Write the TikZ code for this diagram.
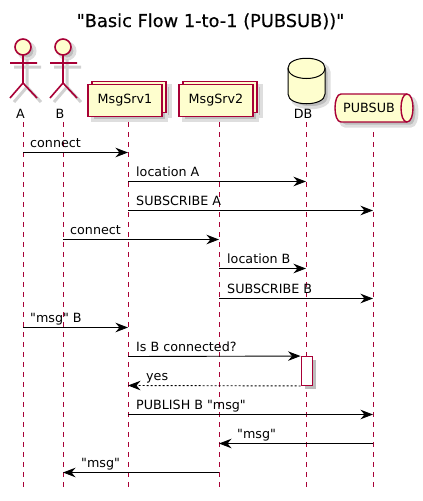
\documentclass[tikz,border=0pt]{standalone}
\usepackage{fontspec}
\setmainfont{DejaVu Sans}
\newfontfamily\labelfont{DejaVu Sans}[Ligatures=ResetAll]
\newfontfamily\titlefont{DejaVu Sans}[Ligatures=ResetAll,FakeBold=0.45]
\usetikzlibrary{arrows.meta}
\definecolor{umlline}{HTML}{A80036}
\definecolor{umlfill}{HTML}{FEFECE}
\begin{document}
\begin{tikzpicture}[x=1pt,y=-1pt,font=\labelfont\fontsize{12.7}{15}\selectfont]
            \tikzstyle{every node}=[inner sep=0pt]
            \tikzstyle{shade}=[draw=black!13,fill=black!26,line width=3pt]
            \tikzstyle{limbshade}=[draw=black!18,line width=3pt]
            \tikzstyle{limb}=[draw=umlline,line width=1.6pt]
            \tikzstyle{box}=[rectangle,draw=umlline,fill=umlfill,line width=1.4pt,minimum width=74pt,minimum height=31.5pt]
            \tikzstyle{boxshade}=[rectangle,draw=black!13,fill=black!26,line width=3pt,minimum width=74pt,minimum height=31.5pt]
            \tikzstyle{lifeline}=[draw=umlline,line width=0.8pt,dash pattern=on 5pt off 5pt]
            \tikzstyle{msg}=[draw=black,line width=0.9pt,-{Stealth[length=12.5pt,width=9.5pt,inset=4pt]}]
            \tikzstyle{reply}=[msg,dash pattern=on 2pt off 2pt]
            \tikzstyle{label}=[anchor=base west]
            \useasboundingbox (0,0) rectangle (423,501);
            \draw (210.5,27) node [anchor=base,font=\titlefont\fontsize{17.8}{20}\selectfont] (title) {"Basic Flow 1-to-1 (PUBSUB))"};
            % lifelines
            \coordinate (lA) at (23,122);
            \coordinate (lB) at (63,122);
            \coordinate (lS1) at (128,122);
            \coordinate (lS2) at (219,122);
            \coordinate (lDB) at (306,122);
            \coordinate (lPS) at (373,122);
            \coordinate (eA) at (23,487);
            \coordinate (eB) at (63,487);
            \coordinate (eS1) at (128,487);
            \coordinate (eS2) at (219,487);
            \coordinate (eDB) at (306,487);
            \coordinate (ePS) at (373,487);
            \draw[lifeline] (lA) -- (eA);
            \draw[lifeline] (lB) -- (eB);
            \draw[lifeline] (lS1) -- (eS1);
            \draw[lifeline] (lS2) -- (eS2);
            \draw[lifeline] (lDB) -- (eDB);
            \draw[lifeline] (lPS) -- (ePS);
            % actor A
            \begin{scope}[shift={(4,4)}]
                \draw[shade] (23,47) circle (8);
                \draw[limbshade] (23,55) -- (23,83) (10,63) -- (37,63) (10,98) -- (23,83) -- (37,98);
            \end{scope}
            \draw[limb] (23,55) -- (23,83) (10,63) -- (37,63) (10,98) -- (23,83) -- (37,98);
            \draw[limb,fill=umlfill] (23,47) circle (8);
            \draw (20.5,113.5) node (A) {A};
            % actor B
            \begin{scope}[shift={(4,4)}]
                \draw[shade] (63,47) circle (8);
                \draw[limbshade] (63,55) -- (63,83) (50,63) -- (77,63) (50,98) -- (63,83) -- (77,98);
            \end{scope}
            \draw[limb] (63,55) -- (63,83) (50,63) -- (77,63) (50,98) -- (63,83) -- (77,98);
            \draw[limb,fill=umlfill] (63,47) circle (8);
            \draw (60,113.5) node (B) {B};
            % collections
            \draw (133,101) node [boxshade] (sS1b) {};
            \draw (129,104.5) node [boxshade] (sS1) {};
            \draw (129,97) node [box] (S1b) {};
            \draw (125,100.5) node [box] (S1) {MsgSrv1};
            \draw (224,101) node [boxshade] (sS2b) {};
            \draw (220,104.5) node [boxshade] (sS2) {};
            \draw (220,97) node [box] (S2b) {};
            \draw (216,100.5) node [box] (S2) {MsgSrv2};
            % database
            \draw[shade,shift={(4,4)}] (288,68) .. controls (288,55) and (325,55) .. (325,68) -- (325,94) .. controls (325,107) and (288,107) .. (288,94) -- cycle;
            \draw[fill=umlfill,line width=1pt] (288,68) .. controls (288,55) and (325,55) .. (325,68) -- (325,94) .. controls (325,107) and (288,107) .. (288,94) -- cycle;
            \draw[line width=1pt] (288,68) .. controls (288,82) and (325,82) .. (325,68);
            \draw (303,113.5) node (DB) {DB};
            % queue
            \draw[shade,shift={(4,4)}] (341,94) -- (407,94) .. controls (415,94) and (415,122) .. (407,122) -- (341,122) .. controls (333,122) and (333,94) .. (341,94) -- cycle;
            \draw[draw=umlline,fill=umlfill,line width=1.4pt] (341,94) -- (407,94) .. controls (415,94) and (415,122) .. (407,122) -- (341,122) .. controls (333,122) and (333,94) .. (341,94) -- cycle;
            \draw[draw=umlline,line width=1.4pt] (407,94) .. controls (399,94) and (399,122) .. (407,122);
            \draw (369,108) node (PS) {PUBSUB};
            % activation
            \draw (310,374) node [rectangle,fill=black!26,minimum width=11pt,minimum height=29pt] (sAct) {};
            \draw (306.5,371) node [rectangle,draw=umlline,fill=white,line width=0.9pt,minimum width=11pt,minimum height=29pt] (act) {};
            % messages
            \coordinate (m1) at (0,152.5);
            \coordinate (m2) at (0,181.5);
            \coordinate (m3) at (0,210.5);
            \coordinate (m4) at (0,239.5);
            \coordinate (m5) at (0,268.5);
            \coordinate (m6) at (0,298.5);
            \coordinate (m7) at (0,327.5);
            \coordinate (m8) at (0,356.5);
            \coordinate (m9) at (0,385.5);
            \coordinate (m10) at (0,414.5);
            \coordinate (m11) at (0,443.5);
            \coordinate (m12) at (0,472.5);
            \draw[msg] (lA |- m1) -- (lS1 |- m1);
            \draw[msg] (lS1 |- m2) -- (lDB |- m2);
            \draw[msg] (lS1 |- m3) -- (lPS |- m3);
            \draw[msg] (lB |- m4) -- (lS2 |- m4);
            \draw[msg] (lS2 |- m5) -- (lDB |- m5);
            \draw[msg] (lS2 |- m6) -- (lPS |- m6);
            \draw[msg] (lA |- m7) -- (lS1 |- m7);
            \draw[msg] (lS1 |- m8) -- (act.north west);
            \draw[reply] (act.south west) -- (lS1 |- m9);
            \draw[msg] (lS1 |- m10) -- (lPS |- m10);
            \draw[msg] (lPS |- m11) -- (lS2 |- m11);
            \draw[msg] (lS2 |- m12) -- (lB |- m12);
            \draw (30,147.5) node [label] (t1) {connect};
            \draw (136,176.5) node [label] (t2) {location A};
            \draw (136,205.5) node [label] (t3) {SUBSCRIBE A};
            \draw (70,234.5) node [label] (t4) {connect};
            \draw (227,263.5) node [label] (t5) {location B};
            \draw (227,293.5) node [label] (t6) {SUBSCRIBE B};
            \draw (30,322.5) node [label] (t7) {"msg" B};
            \draw (136,351.5) node [label] (t8) {Is B connected?};
            \draw (146,380.5) node [label] (t9) {yes};
            \draw (136,409.5) node [label] (t10) {PUBLISH B "msg"};
            \draw (237,438.5) node [label] (t11) {"msg"};
            \draw (81,467.5) node [label] (t12) {"msg"};
        \end{tikzpicture}
\end{document}
